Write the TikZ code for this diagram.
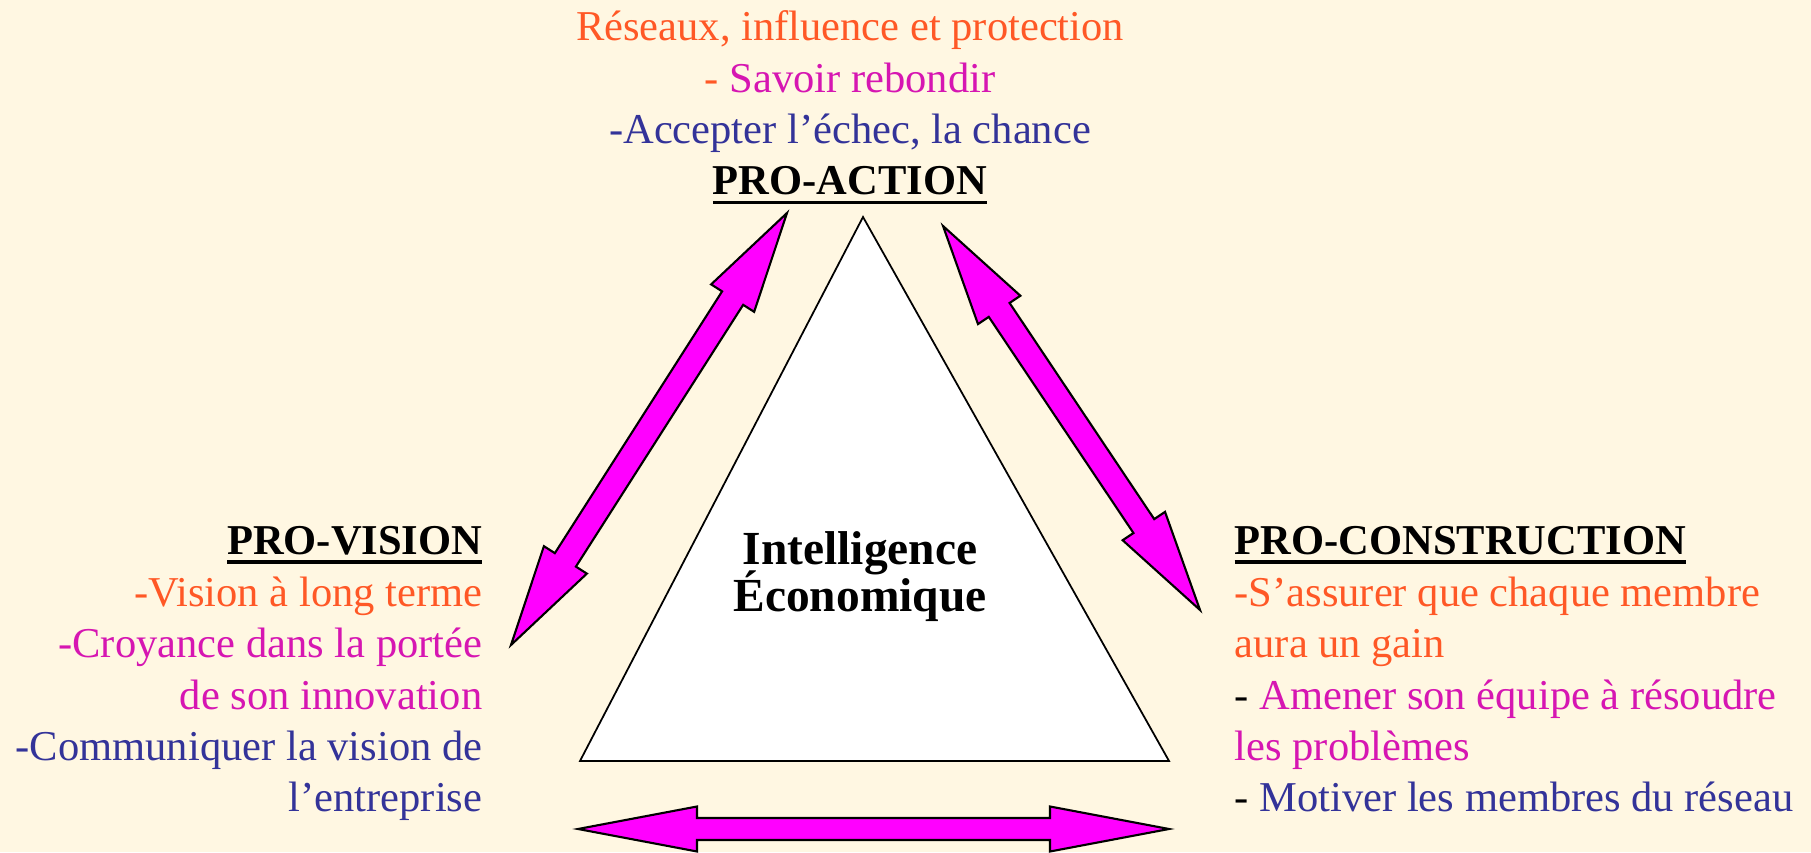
\documentclass[tikz,border=0pt]{standalone}
\usepackage{fontspec}
\setmainfont{Liberation Serif}
\usetikzlibrary{calc}

\definecolor{bgcream}{RGB}{255,247,226}
\definecolor{arrowpink}{RGB}{255,0,255}
\definecolor{txtorange}{RGB}{255,88,38}
\definecolor{txtmagenta}{RGB}{214,22,178}
\definecolor{txtblue}{RGB}{51,51,153}

% bold heading with a thick rule under it
\newcommand{\headline}[1]{\setbox0\hbox{\bfseries #1}\rlap{\rule[-2.7pt]{\wd0}{1.1pt}}\box0}
\newcommand{\tightlines}{\lineskiplimit=-20pt\relax}

% double fat arrow: ends, head length, head half width, shaft half width
\newcommand{\fatarrow}[5]{%
  \draw[fat] (#1)
    -- ($(#1)!#3!(#2)!#4!90:(#2)$)
    -- ($(#1)!#3!(#2)!#5!90:(#2)$)
    -- ($(#2)!#3!(#1)!#5!-90:(#1)$)
    -- ($(#2)!#3!(#1)!#4!-90:(#1)$)
    -- (#2)
    -- ($(#2)!#3!(#1)!#4!90:(#1)$)
    -- ($(#2)!#3!(#1)!#5!90:(#1)$)
    -- ($(#1)!#3!(#2)!#5!-90:(#2)$)
    -- ($(#1)!#3!(#2)!#4!-90:(#2)$)
    -- cycle ;}

\begin{document}
\begin{tikzpicture}[
  fat/.style={fill=arrowpink,draw=black,line width=0.6pt,line join=miter},
  lines/.style={inner sep=0pt,font=\fontsize{12.1}{14.65}\selectfont},
  centre/.style={inner sep=0pt,font={\fontsize{13.5}{13.4}\selectfont\bfseries\tightlines}}
]

\fill [bgcream] (0,0) rectangle (18.11,8.52) ;
\useasboundingbox (0,0) rectangle (18.11,8.52) ;

\coordinate (top) at (8.63,6.35) ;
\coordinate (bl) at (5.80,0.91) ;
\coordinate (br) at (11.69,0.91) ;

\draw [fill=white,line width=0.5pt] (top) -- (bl) -- (br) -- cycle ;

\coordinate (va) at (7.87,6.39) ;
\coordinate (vb) at (5.11,2.07) ;
\coordinate (ca) at (9.43,6.26) ;
\coordinate (cb) at (12.00,2.42) ;
\coordinate (ha) at (5.78,0.23) ;
\coordinate (hb) at (11.69,0.23) ;

\fatarrow{va}{vb}{1.01cm}{0.255cm}{0.125cm}
\fatarrow{ca}{cb}{1.01cm}{0.255cm}{0.125cm}
\fatarrow{ha}{hb}{1.19cm}{0.225cm}{0.11cm}

\node [lines,align=center,anchor=base] (action) at (8.50,6.57)
  {\color{txtorange}Réseaux, influence et protection\\
   \color{txtorange}- \color{txtmagenta}Savoir rebondir\\
   \color{txtblue}-Accepter l’échec, la chance\\
   \headline{PRO-ACTION}} ;

\node [lines,align=right,anchor=base east] (vision) at (4.83,0.40)
  {\headline{PRO-VISION}\\
   \color{txtorange}-Vision à long terme\\
   \color{txtmagenta}-Croyance dans la portée\\
   \color{txtmagenta}de son innovation\\
   \color{txtblue}-Communiquer la vision de\\
   \color{txtblue}l’entreprise} ;

\node [lines,align=left,anchor=base west] (construction) at (12.34,0.40)
  {\headline{PRO-CONSTRUCTION}\\
   \color{txtorange}-S’assurer que chaque membre\\
   \color{txtorange}aura un gain\\
   - \color{txtmagenta}Amener son équipe à résoudre\\
   \color{txtmagenta}les problèmes\\
   - \color{txtblue}Motiver les membres du réseau} ;

\node [centre,align=center,anchor=base] (ie) at (8.60,2.40)
  {Intelligence\\Économique} ;

\end{tikzpicture}
\end{document}
